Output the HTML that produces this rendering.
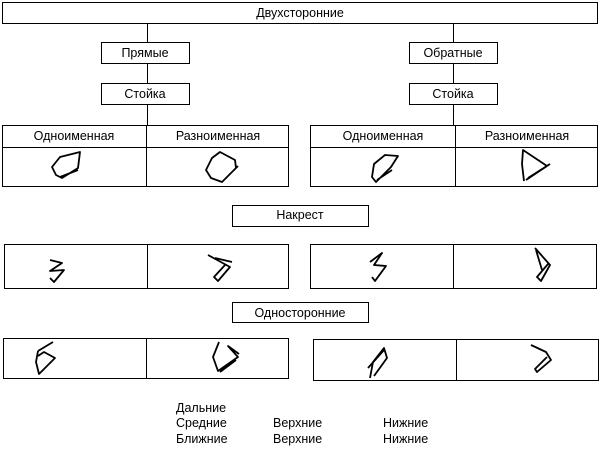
<!DOCTYPE html>
<html><head><meta charset="utf-8"><style>
body{margin:0;background:#fff;width:600px;height:454px;overflow:hidden}
svg{display:block}
text{font-family:"Liberation Sans","DejaVu Sans",sans-serif;font-size:12.5px;fill:#000}
</style></head><body>
<svg width="600" height="454" viewBox="0 0 600 454" xmlns="http://www.w3.org/2000/svg">
<g fill="none" stroke="#000" stroke-width="1">
<rect x="2.5" y="2.5" width="595" height="21"/>
<line x1="147.5" y1="24" x2="147.5" y2="42"/>
<line x1="453.5" y1="24" x2="453.5" y2="42"/>
<rect x="101.5" y="42.5" width="88" height="21"/>
<rect x="409.5" y="42.5" width="88" height="21"/>
<line x1="147.5" y1="63" x2="147.5" y2="83"/>
<line x1="453.5" y1="63" x2="453.5" y2="83"/>
<rect x="101.5" y="83.5" width="88" height="21"/>
<rect x="409.5" y="83.5" width="88" height="21"/>
<line x1="147.5" y1="105" x2="147.5" y2="125"/>
<line x1="453.5" y1="105" x2="453.5" y2="125"/>
<rect x="2.5" y="125.5" width="286" height="61"/>
<line x1="2" y1="147.5" x2="289" y2="147.5"/>
<line x1="146.5" y1="125" x2="146.5" y2="186"/>
<rect x="310.5" y="125.5" width="287" height="61"/>
<line x1="310" y1="147.5" x2="598" y2="147.5"/>
<line x1="455.5" y1="125" x2="455.5" y2="186"/>
<rect x="232.5" y="205.5" width="136" height="21"/>
<rect x="4.5" y="244.5" width="284" height="44"/>
<line x1="147.5" y1="244" x2="147.5" y2="289"/>
<rect x="310.5" y="244.5" width="286" height="44"/>
<line x1="453.5" y1="244" x2="453.5" y2="289"/>
<rect x="232.5" y="302.5" width="136" height="20"/>
<rect x="3.5" y="338.5" width="285" height="40"/>
<line x1="146.5" y1="338" x2="146.5" y2="379"/>
<rect x="313.5" y="339.5" width="285" height="41"/>
<line x1="456.5" y1="339" x2="456.5" y2="381"/>
</g>
<g fill="none" stroke="#000" stroke-width="1.8" stroke-linejoin="round">
<path d="M56 175 L52 167 L60 157 L80 152 L78 168 L62 178 Z M60 177 L78 170"/>
<path d="M211 178 L206 170 L212 158 L220 152 L235 160 L236 168 L222 182 Z M224 180 L238 166"/>
<path d="M372 177 L374 164 L385 155 L398 156 L391 167 L376 182 Z M377 180 L392 170"/>
<path d="M524 181 L522 164 L523 150 L547 166 L526 180 M528 178 L550 164"/>
<path d="M50 260 L62 263 L50 271 L64 270 L54 282 L50 278"/>
<path d="M208 255 L230 267 L218 281 L214 277 L225 265 M215 258 L232 262"/>
<path d="M370 262 L382 253 L374 265 L386 266 L375 281 L372 277"/>
<path d="M535 248 L550 265 L541 281 L537 277 L548 264 M536 250 L542 270"/>
<path d="M38 351 L53 342 M38 351 L36 362 L39 374 L55 358 L44 352 L38 356"/>
<path d="M219 342 L213 357 L218 371 L238 357 L228 346 L239 354 M220 372 L236 360"/>
<path d="M370 378 L373 362 L384 348 L387 358 L374 376 M368 368 L384 350"/>
<path d="M531 345 L546 352 L551 360 L537 372 L535 369 L547 357"/>
</g>
<text x="300" y="17" text-anchor="middle">Двухсторонние</text>
<text x="145" y="57" text-anchor="middle">Прямые</text>
<text x="453" y="57" text-anchor="middle">Обратные</text>
<text x="145" y="98" text-anchor="middle">Стойка</text>
<text x="453" y="98" text-anchor="middle">Стойка</text>
<text x="74" y="140" text-anchor="middle">Одноименная</text>
<text x="218" y="140" text-anchor="middle">Разноименная</text>
<text x="383" y="140" text-anchor="middle">Одноименная</text>
<text x="527" y="140" text-anchor="middle">Разноименная</text>
<text x="300" y="219" text-anchor="middle">Накрест</text>
<text x="300" y="317" text-anchor="middle">Односторонние</text>
<text x="176" y="412">Дальние</text>
<text x="176" y="427">Средние</text>
<text x="176" y="443">Ближние</text>
<text x="273" y="427">Верхние</text>
<text x="273" y="443">Верхние</text>
<text x="383" y="427">Нижние</text>
<text x="383" y="443">Нижние</text>
</svg>
</body></html>
